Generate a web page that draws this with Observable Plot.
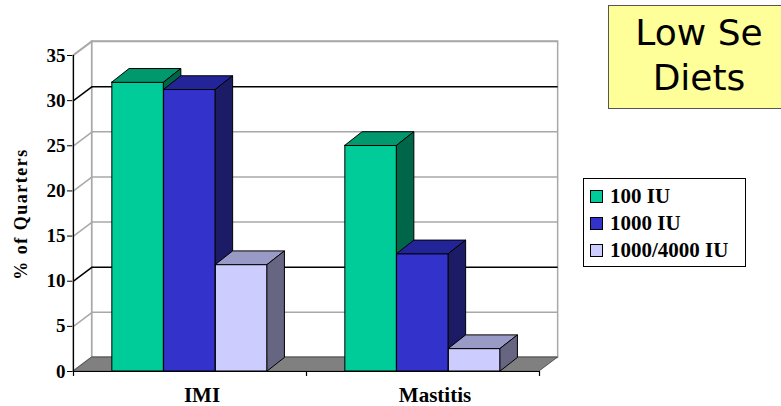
<!DOCTYPE html>
<html>
<head>
<meta charset="utf-8">
<script src="https://cdn.jsdelivr.net/npm/d3@7"></script>
<script src="https://cdn.jsdelivr.net/npm/@observablehq/plot@0.6"></script>
<style>
  html, body { margin: 0; padding: 0; background: #fff; }
  #wrap { position: relative; width: 781px; height: 406px; overflow: hidden; background: #fff; }
  #wrap svg { position: absolute; left: 0; top: 0; }
  .ylabel { position: absolute; left: 21px; top: 214px; transform: translate(-50%, -50%) rotate(-90deg);
    font: bold 18px "Liberation Serif", serif; letter-spacing: 1.5px; white-space: nowrap; color: #000; }
  .titlebox { position: absolute; left: 608px; top: 5px; width: 180px; height: 98px; background: #FFFF99;
    border: 1px solid #555; font: 36px "DejaVu Sans", sans-serif; line-height: 45px; text-align: center;
    padding-top: 4px; box-sizing: content-box; color: #000; }
  .legend { position: absolute; left: 583px; top: 178px; width: 161px; height: 87px; border: 1px solid #000;
    background: #fff; font: bold 21px "Liberation Serif", serif; color: #000; }
  .legend .row { position: absolute; left: 6px; height: 20px; display: flex; align-items: center; white-space: nowrap; }
  .legend .sw { width: 11px; height: 11px; border: 1px solid #000; margin-right: 7px; }
</style>
</head>
<body>
<div id="wrap"></div>
<script>
// ---- data ----
const categories = ["IMI", "Mastitis"];
const seriesNames = ["100 IU", "1000 IU", "1000/4000 IU"];
const values100IU = [32, 25];
const values1000IU = [31.2, 13];
const values1000_4000IU = [11.8, 2.5];
const yTicks = [0, 5, 10, 15, 20, 25, 30, 35];
const yLabel = "% of Quarters";
const titleLines = ["Low Se", "Diets"];

// ---- styles ----
const frontColors = ["#00CC99", "#3333CC", "#CCCCFF"];
const topColors = ["#00996E", "#242499", "#9A9AC6"];
const sideColors = ["#00664A", "#1C1C66", "#666682"];

// 3D oblique depth (in data units of the scales)
const WX = 0.08, WY = 1.55;    // walls / floor depth
const DX = 0.074, DY = 1.5;    // bar depth
const barW = 2 / 9, gapW = 1 / 6; // Excel gap width 150%

const seriesValues = [values100IU, values1000IU, values1000_4000IU];
const bars = [];
categories.forEach((c, i) => seriesNames.forEach((s, j) => {
  const x1 = i + gapW + j * barW;
  bars.push({category: c, series: s, j, value: seriesValues[j][i], x1, x2: x1 + barW});
}));

const gridStroke = d => (d === 10 || d === 30) ? "#000" : "#a8a8a8";
const yMax = yTicks[yTicks.length - 1];
const nCat = categories.length;

const marks = [
  // back wall
  Plot.rect([0], {x1: WX, x2: nCat + WX, y1: WY, y2: yMax + WY, fill: "white", stroke: "#a8a8a8", strokeWidth: 1.5}),
  // left wall
  Plot.areaY([{x: 0, y1: 0, y2: yMax}, {x: WX, y1: WY, y2: yMax + WY}], {x: "x", y1: "y1", y2: "y2", fill: "white", stroke: "#a8a8a8", strokeWidth: 1.5}),
  // gridlines on back wall
  Plot.ruleY(yTicks, {y: d => d + WY, x1: WX, x2: nCat + WX, stroke: gridStroke, strokeWidth: 1.5}),
  // gridlines on left wall
  Plot.link(yTicks, {x1: 0, y1: d => d, x2: WX, y2: d => d + WY, stroke: gridStroke, strokeWidth: 1.5}),
  // floor
  Plot.areaX([{y: 0, x1: 0, x2: nCat}, {y: WY, x1: WX, x2: nCat + WX}], {y: "y", x1: "x1", x2: "x2", fill: "#808080", stroke: "#404040", strokeWidth: 0.8}),
  // axes lines
  Plot.ruleX([0], {y1: 0, y2: yMax, stroke: "#000", strokeWidth: 1.2}),
  Plot.ruleY([0], {x1: 0, x2: nCat, stroke: "#000", strokeWidth: 1.2}),
  Plot.ruleX(d3.range(nCat + 1), {y1: 0, y2: -0.55, stroke: "#000", strokeWidth: 1.2}),
];

for (const b of bars) {
  const v = b.value;
  marks.push(
    Plot.rect([b], {x1: "x1", x2: "x2", y1: 0, y2: "value", fill: frontColors[b.j], stroke: "#000", strokeWidth: 1}),
    Plot.areaX([{y: v, x1: b.x1, x2: b.x2}, {y: v + DY, x1: b.x1 + DX, x2: b.x2 + DX}],
      {y: "y", x1: "x1", x2: "x2", fill: topColors[b.j], stroke: "#000", strokeWidth: 1}),
    Plot.areaY([{x: b.x2, y1: 0, y2: v}, {x: b.x2 + DX, y1: DY, y2: v + DY}],
      {x: "x", y1: "y1", y2: "y2", fill: sideColors[b.j], stroke: "#000", strokeWidth: 1})
  );
}

marks.push(
  Plot.text(categories, {x: (d, i) => i + 0.5, y: 0, text: d => d, dy: 24, dx: 12, fontSize: 21, fontWeight: "bold", lineAnchor: "middle"})
);

const chart = Plot.plot({
  width: 781,
  height: 406,
  marginLeft: 73,
  marginRight: 242,
  marginTop: 55,
  marginBottom: 35,
  x: {domain: [0, nCat], axis: null},
  y: {domain: [0, yMax], ticks: yTicks, tickSize: 6, tickPadding: 2, label: null, tickFormat: d => d},
  color: {type: "identity"},
  style: {fontFamily: "'Liberation Serif', serif", fontSize: "19px", fontWeight: "bold", background: "transparent", overflow: "visible", color: "#000"},
  marks
});

const wrap = document.getElementById("wrap");
wrap.appendChild(chart);

const yl = document.createElement("div");
yl.className = "ylabel";
yl.textContent = yLabel;
wrap.appendChild(yl);

const tb = document.createElement("div");
tb.className = "titlebox";
tb.innerHTML = titleLines.join("<br>");
wrap.appendChild(tb);

const lg = document.createElement("div");
lg.className = "legend";
const rowTops = [7, 34, 61];
seriesNames.forEach((s, j) => {
  const r = document.createElement("div");
  r.className = "row";
  r.style.top = rowTops[j] + "px";
  const sw = document.createElement("span");
  sw.className = "sw";
  sw.style.background = frontColors[j];
  r.appendChild(sw);
  r.appendChild(document.createTextNode(s));
  lg.appendChild(r);
});
wrap.appendChild(lg);
</script>
</body>
</html>
